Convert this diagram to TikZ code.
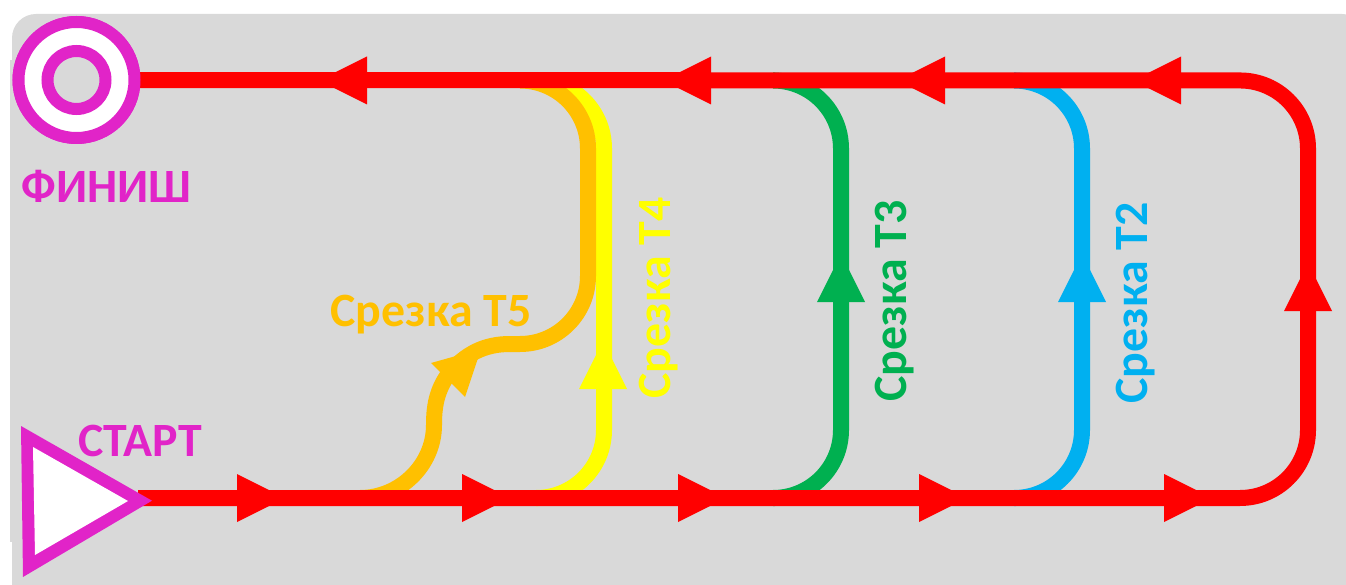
\documentclass[tikz,border=0pt]{standalone}
\usepackage{fontspec}
\setmainfont{Carlito}
\definecolor{bgc}{HTML}{D9D9D9}
\definecolor{mag}{HTML}{E124C8}
\definecolor{org}{HTML}{FFC000}
\definecolor{yel}{HTML}{FFFF00}
\definecolor{grn}{HTML}{00B050}
\definecolor{blu}{HTML}{00B0F0}
\definecolor{rd}{HTML}{FF0000}
\newcommand\headtip[4]{\fill[#4,shift={(#1,#2)},rotate=#3] (0,24)--(48,0)--(0,-24)--cycle;}
\tikzset{
  x=1pt,y=-1pt,
  route/.style={line width=16pt,rounded corners=68pt},
  lab/.style={font=\fontsize{47.8}{47.8}\selectfont\bfseries,inner sep=0pt},
}
\begin{document}
\begin{tikzpicture}
\useasboundingbox (0,0) rectangle (1346,585);
\clip (0,0) rectangle (1346,585);
\fill[bgc,rounded corners=24pt] (12,14) -- (1366,14) -- (1366,620) -- (12,620) -- cycle;
\fill[bgc] (10,60) rectangle (14,542);
\node[circle,draw=mag,fill=white,line width=12pt,minimum size=116pt,inner sep=0pt] (finish) at (76.5,80) {};
\coordinate (startc) at (138,498);
\coordinate (br) at (1308,498);
\coordinate (tr) at (1308,80.5);
% shortcuts
\draw[route,yel] (538,498) -- (604,498) -- (604,80.5) -- (538,80.5);
\draw[route,org] (520,80.5) -- (588,80.5) -- (588,344) -- (510,344);
\draw[org,line width=16pt] (510,344) .. controls (484,344) and (466,354) .. (450,372) .. controls (436,390) and (434,408) .. (434,425) .. controls (434,465) and (400,498) .. (360,498);
\draw[route,grn] (775,498) -- (841,498) -- (841,80.5) -- (775,80.5);
\draw[route,blu] (1016,498) -- (1082,498) -- (1082,80.5) -- (1016,80.5);
% main route
\draw[route,rd] (startc) -- (br) -- (tr) -- (finish.center);
\node[circle,draw=mag,fill=white,line width=12pt,minimum size=116pt,inner sep=0pt] at (finish.center) {};
\node[circle,draw=mag,fill=bgc,line width=12pt,minimum size=58pt,inner sep=0pt] (finishin) at (finish.center) {};
% start triangle
\fill[mag] (21,426) -- (152,500.7) -- (23,577) -- cycle;
\fill[white] (33,447) -- (128,501) -- (35,555) -- cycle;
% arrowheads
\headtip{237}{498}{0}{rd}
\headtip{462}{498}{0}{rd}
\headtip{678}{498}{0}{rd}
\headtip{919}{498}{0}{rd}
\headtip{1164}{498}{0}{rd}
\headtip{367}{80.5}{180}{rd}
\headtip{711}{80.5}{180}{rd}
\headtip{945}{80.5}{180}{rd}
\headtip{1181}{80.5}{180}{rd}
\headtip{1308}{311}{90}{rd}
\headtip{841}{302}{90}{grn}
\headtip{1082}{302}{90}{blu}
\headtip{603}{389}{90}{yel}
\fill[org] (431,363) -- (481,349) -- (465,397) -- cycle;
% labels
\node[lab,text=mag] (tfinish) at (106.5,186) {ФИНИШ};
\node[lab,text=mag] (tstart) at (140,441) {СТАРТ};
\node[lab,text=org] (t5) at (431,315) {Срезка Т5};
\node[lab,text=yel,rotate=90] (t4) at (659,298) {Срезка Т4};
\node[lab,text=grn,rotate=90] (t3) at (895,301) {Срезка Т3};
\node[lab,text=blu,rotate=90] (t2) at (1136,303) {Срезка Т2};
\end{tikzpicture}
\end{document}
